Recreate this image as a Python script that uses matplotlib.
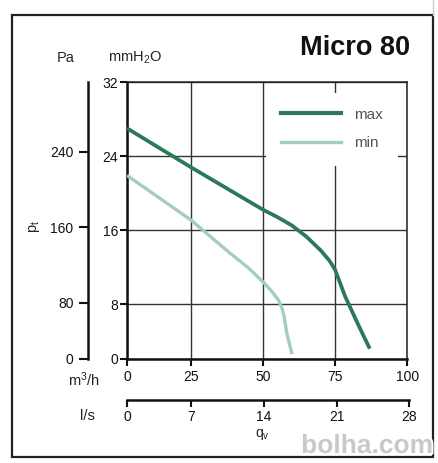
import numpy as np
import matplotlib
matplotlib.use("Agg")
import matplotlib.pyplot as plt
from matplotlib.lines import Line2D
import matplotlib.patheffects as pe

plt.rcParams['font.family'] = ['Liberation Sans', 'DejaVu Sans']
plt.rcParams['mathtext.fontset'] = 'custom'
plt.rcParams['mathtext.rm'] = 'Liberation Sans'
plt.rcParams['mathtext.it'] = 'Liberation Sans:italic'

# ---- data (airflow in m3/h, pressure in mmH2O) ----
max_q = [0, 12.5, 25, 37.5, 50, 55, 60, 65, 70, 73, 75, 78.5, 83, 87]
max_p = [27.0, 24.9, 22.8, 20.5, 18.2, 17.4, 16.5, 15.3, 13.8, 12.7, 11.7, 8.8, 5.0, 1.5]
min_q = [0, 12.5, 25, 38.6, 45, 50, 53, 55.4, 56.5, 57.3, 58.3, 60.1]
min_p = [21.9, 19.5, 17.1, 13.5, 11.9, 10.4, 9.4, 8.4, 7.5, 6.3, 3.7, 0.7]
series_labels = ["max", "min"]

q_ticks = [0, 25, 50, 75, 100]
p_ticks = [0, 8, 16, 24, 32]
pa_ticks = [0, 80, 160, 240]
ls_ticks = [0, 7, 14, 21, 28]
PA_PER_MM = 9.80665
M3H_PER_LS = 3.6

C_MAX = '#2b7a57'
C_MIN = '#a3cdbf'

W, H = 439, 463
fig = plt.figure(figsize=(W / 100, H / 100), dpi=100)


def fx(x):
    x = np.asarray(x, float)
    return np.where(x < 25, x * 63.7 / 25, 63.7 + (x - 25) * 2.888)


def fx_inv(v):
    v = np.asarray(v, float)
    return np.where(v < 63.7, v * 25 / 63.7, 25 + (v - 63.7) / 2.888)


def fy(y):
    y = np.asarray(y, float)
    return np.where(y < 8, y * 55 / 8, 55 + (y - 8) * 9.25)


def fy_inv(v):
    v = np.asarray(v, float)
    return np.where(v < 55, v * 8 / 55, 8 + (v - 55) / 9.25)


def fr(x0, y0, x1, y1):
    # pixel box -> figure fraction rect
    return [x0 / W, 1 - y1 / H, (x1 - x0) / W, (y1 - y0) / H]


ax = fig.add_axes(fr(127, 82, 407.3, 359))
ax.set_xscale('function', functions=(fx, fx_inv))
ax.set_yscale('function', functions=(fy, fy_inv))
ax.set_xlim(0, 100)
ax.set_ylim(0, 32)
ax.set_xticks(q_ticks)
ax.set_yticks(p_ticks)
ax.set_xticks([], minor=True)
ax.set_yticks([], minor=True)
ax.grid(True, color='#333333', linewidth=1.0)
ax.set_axisbelow(True)
for s in ['left', 'bottom']:
    ax.spines[s].set_linewidth(1.8)
    ax.spines[s].set_color('#111111')
for s in ['top', 'right']:
    ax.spines[s].set_linewidth(1.1)
    ax.spines[s].set_color('#222222')
ax.tick_params(axis='both', direction='out', length=5, width=1.5,
               labelsize=10, colors='#111111')
ax.tick_params(axis='y', pad=1.5)
ax.tick_params(axis='x', pad=3)

ax.plot(max_q, max_p, color=C_MAX, lw=2.7, solid_capstyle='butt',
        solid_joinstyle='round', zorder=3)
ax.plot(min_q, min_p, color=C_MIN, lw=2.4, solid_capstyle='butt',
        solid_joinstyle='round', zorder=3)

handles = [Line2D([], [], color=C_MAX, lw=3.0), Line2D([], [], color=C_MIN, lw=2.4)]
leg = ax.legend(handles, series_labels, loc='upper right',
                bbox_to_anchor=(0.967, 0.962), frameon=True, fancybox=False,
                facecolor='white', edgecolor='none', framealpha=1.0,
                fontsize=11, handlelength=3.9, handletextpad=0.85,
                labelspacing=0.95, borderpad=1.0, borderaxespad=0)
for t in leg.get_texts():
    t.set_color('#555555')
leg.set_zorder(5)

# Pa axis
axp = fig.add_axes(fr(88, 82, 88.5, 359))
axp.set_yscale('function', functions=(fy, fy_inv))
axp.set_ylim(0, 32)
axp.set_yticks([p / PA_PER_MM for p in pa_ticks])
axp.set_yticklabels([str(p) for p in pa_ticks])
axp.set_yticks([], minor=True)
axp.set_xticks([])
axp.patch.set_alpha(0)
for s in ['top', 'right', 'bottom']:
    axp.spines[s].set_visible(False)
axp.spines['left'].set_linewidth(1.8)
axp.spines['left'].set_color('#111111')
axp.tick_params(axis='y', direction='out', length=6.5, width=1.5,
                labelsize=10, colors='#111111', pad=4)

# l/s axis
axl = fig.add_axes(fr(127, 380, 127 + 282.3, 400))
axl.set_xscale('function', functions=(fx, fx_inv))
axl.set_xlim(0, max(ls_ticks) * M3H_PER_LS)
axl.set_xticks([v * M3H_PER_LS for v in ls_ticks])
axl.set_xticklabels([str(v) for v in ls_ticks])
axl.set_xticks([], minor=True)
axl.set_yticks([])
axl.patch.set_alpha(0)
for s in ['top', 'right', 'left']:
    axl.spines[s].set_visible(False)
axl.spines['bottom'].set_linewidth(1.8)
axl.spines['bottom'].set_color('#111111')
axl.tick_params(axis='x', direction='out', length=5, width=1.5,
                labelsize=10, colors='#111111', pad=2.5)


def ftext(x, y, s, **kw):
    return fig.text(x / W, 1 - y / H, s, **kw)


ftext(66, 58, 'Pa', ha='center', va='center', fontsize=10.5, color='#222222')
ftext(135, 58, r'mmH$_{\mathregular{2}}$O', ha='center', va='center', fontsize=10.5, color='#222222')
ftext(100, 380, r'm$^{\mathregular{3}}$/h', ha='right', va='center', fontsize=10.5, color='#222222')
ftext(95, 416, 'l/s', ha='right', va='center', fontsize=10.5, color='#222222')
ftext(262, 434, r'q$_{\mathregular{v}}$', ha='center', va='center', fontsize=10,
      color='#222222')
ftext(34, 226, r'p$_{\mathregular{t}}$', ha='center', va='center', fontsize=10.5,
      color='#222222', rotation=90)
ftext(410, 48, 'Micro 80', ha='right', va='center', fontsize=19.5,
      fontweight='bold', color='#111111')

# outer frame
frame = plt.Rectangle((12 / W, 1 - 457 / H), (433 - 12) / W, (457 - 15) / H,
                      transform=fig.transFigure, fill=False, lw=1.6,
                      edgecolor='#222222', zorder=1)
fig.add_artist(frame)
fig.add_artist(Line2D([433 / W, 433 / W], [1, 1 - 15 / H], transform=fig.transFigure,
                      color='#cccccc', lw=1.0))

wm = ftext(433, 446, 'bolha.com', ha='right', va='center', fontsize=19,
           fontweight='bold', color='#c9c9c9', zorder=10)
wm.set_path_effects([pe.withStroke(linewidth=3, foreground='white')])

fig.savefig('out.png', dpi=100)
